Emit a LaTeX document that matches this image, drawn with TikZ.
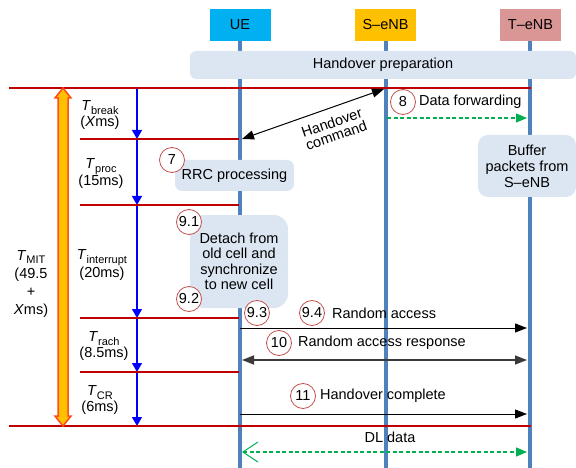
\documentclass[tikz,border=0pt]{standalone}
\usepackage{fontspec}
\setmainfont{Liberation Sans}
\usepackage{tikz}
\usetikzlibrary{positioning}
\usetikzlibrary{arrows.meta}

\definecolor{lifeblue}{HTML}{4F81BD}
\definecolor{boxgray}{HTML}{DCE6F2}
\definecolor{uecyan}{HTML}{00B0F0}
\definecolor{sgold}{HTML}{FFC000}
\definecolor{tpink}{HTML}{D99694}
\definecolor{cutred}{HTML}{C00000}
\definecolor{stepred}{HTML}{C0504D}
\definecolor{fwdgreen}{HTML}{00B050}
\definecolor{mitborder}{HTML}{FF4E1A}
\definecolor{resgray}{HTML}{3A3A3A}

\newcommand{\tspan}[1]{\textit{T}\raisebox{-0.45ex}{\fontsize{11}{11}\selectfont #1}}

\tikzset{
    entity/.style={rectangle, minimum width=61pt, minimum height=32pt, inner sep=0pt},
    lifeline/.style={draw=lifeblue, line width=4pt},
    phase/.style={rectangle, rounded corners=7pt, fill=boxgray, inner sep=0pt, align=center},
    stepnum/.style={circle, draw=stepred, line width=0.8pt, fill=white, minimum size=25pt, inner sep=0pt},
    cutline/.style={draw=cutred, line width=2pt},
    timearrow/.style={draw=blue, line width=1.3pt, -{Triangle[width=10pt,length=9pt]}},
    timelabel/.style={align=center, inner sep=0pt},
    msg/.style={draw=black, line width=1pt, -{Triangle[width=9pt,length=12pt]}},
    fwd/.style={draw=fwdgreen, line width=1.3pt, dash pattern=on 4pt off 2.5pt, -{Triangle[width=9pt,length=11pt]}},
    mitarrow/.style={draw=mitborder, fill=sgold, line width=1.5pt}
}

\begin{document}
\begin{tikzpicture}[x=1pt, y=-1pt, font=\fontsize{14.5}{15.5}\selectfont]
    \useasboundingbox (0,0) rectangle (576,468);

    \node [entity, fill=uecyan] (ue) at (240,25) {UE};
    \node [entity, fill=sgold] (senb) at (385.5,25) {S--eNB};
    \node [entity, fill=tpink] (tenb) at (530.5,25) {T--eNB};

    \coordinate (ue bot) at (240,470);
    \coordinate (senb bot) at (385.5,470);
    \coordinate (tenb bot) at (529.5,470);
    \draw [lifeline] (ue) -- (ue bot);
    \draw [lifeline] (senb) -- (senb bot);
    \draw [lifeline] (tenb.south -| tenb bot) -- (tenb bot);

    \node [phase, rounded corners=6pt, minimum width=386pt, minimum height=28pt] (prep) at (383,65) {Handover preparation};
    \node [phase, minimum width=119pt, minimum height=31pt] (rrc) at (234.5,175.5) {RRC processing};
    \node [phase, rounded corners=14pt, minimum width=98pt, minimum height=93pt] (detach) at (239,261.5) {Detach from\\old cell and\\synchronize\\to new cell};
    \node [phase, rounded corners=10pt, minimum width=98pt, minimum height=62pt, font=\fontsize{14.5}{16}\selectfont] (buffer) at (527,166) {Buffer\\packets from\\S--eNB};

    \coordinate (tb0) at (137,88);
    \coordinate (tb1) at (137,139);
    \coordinate (tb2) at (137,205);
    \coordinate (tb3) at (137,318);
    \coordinate (tb4) at (137,372);
    \coordinate (tb5) at (137,426);

    \draw [timearrow] (tb0) -- (tb1);
    \draw [timearrow] (tb1) -- (tb2);
    \draw [timearrow] (tb2) -- (tb3);
    \draw [timearrow] (tb3) -- (tb4);
    \draw [timearrow] (tb4) -- (tb5);

    \draw [cutline] (9,88) -- (531,88);
    \draw [cutline] (80,139) -- (239,139);
    \draw [cutline] (80,205) -- (239,205);
    \draw [cutline] (80,318) -- (239,318);
    \draw [cutline] (80,372) -- (239,372);
    \draw [cutline] (9,426) -- (531,426);

    \coordinate (mittop) at (63,88);
    \coordinate (mitbot) at (63,426);
    \draw [mitarrow] (mittop) -- ++(8,10) -- ++(-3,0) -- ++(0,318) -- ++(3,0) -- (mitbot) -- ++(-8,-10) -- ++(3,0) -- ++(0,-318) -- ++(-3,0) -- cycle;

    \node [timelabel] (tbreak) at (100,115) {\tspan{break}\\(\textit{X}ms)};
    \node [timelabel, font=\fontsize{14.5}{17}\selectfont] (tproc) at (101,174) {\tspan{proc}\\(15ms)};
    \node [timelabel] (tint) at (102,265) {\tspan{interrupt}\\(20ms)};
    \node [timelabel] (trach) at (104,346) {\tspan{rach}\\(8.5ms)};
    \node [timelabel] (tcr) at (100,400) {\tspan{CR}\\(6ms)};
    \node [timelabel, font=\fontsize{14.5}{18}\selectfont] (tmit) at (31,284) {\tspan{MIT}\\(49.5\\+\\\textit{X}ms)};

    \coordinate (ue hc) at (242,139);
    \coordinate (senb hc) at (384,89);
    \coordinate (senb df) at (387,118);
    \coordinate (tenb df) at (527,118);
    \coordinate (ue ra) at (240,328);
    \coordinate (tenb ra) at (527,328);
    \coordinate (ue rar) at (242,360);
    \coordinate (tenb rar) at (527,360);
    \coordinate (ue hoc) at (240,414);
    \coordinate (tenb hoc) at (527,414);
    \coordinate (ue dl) at (242,452);
    \coordinate (tenb dl) at (527,452);

    \draw [msg, {Triangle[width=9pt,length=12pt]}-{Triangle[width=9pt,length=12pt]}] (ue hc) -- (senb hc);
    \node [inner sep=0pt] (hclabel) at (334,129) {\rotatebox{19}{\shortstack{Handover\\command}}};
    \draw [fwd] (senb df) -- (tenb df);
    \draw [msg] (ue ra) -- (tenb ra);
    \draw [msg, draw=resgray, line width=1.5pt, {Triangle[width=9pt,length=12pt]}-{Triangle[width=9pt,length=12pt]}] (ue rar) -- (tenb rar);
    \draw [msg] (ue hoc) -- (tenb hoc);
    \draw [fwd, {Straight Barb[length=15pt,width=20pt,line width=1pt]}-{Triangle[width=9pt,length=11pt]}] (ue dl) -- (tenb dl);

    \node [stepnum] (s7) at (172,160) {7};
    \node [stepnum] (s8) at (403,102) {8};
    \node [stepnum] (s91) at (189,222) {9.1};
    \node [stepnum] (s92) at (189,299) {9.2};
    \node [stepnum] (s93) at (257,313) {9.3};
    \node [stepnum] (s94) at (312,313) {9.4};
    \node [stepnum] (s10) at (279,343) {10};
    \node [stepnum] (s11) at (303,396) {11};

    \node [right=3pt of s8, inner sep=0pt] (dflabel) {Data forwarding};
    \node [right=7pt of s94, inner sep=0pt] (ralabel) {Random access};
    \node [right=6pt of s10, inner sep=0pt] (rarlabel) {Random access response};
    \node [right=4pt of s11, inner sep=0pt] (hoclabel) {Handover complete};
    \node (dllabel) at (390,437) {DL data};
\end{tikzpicture}
\end{document}
